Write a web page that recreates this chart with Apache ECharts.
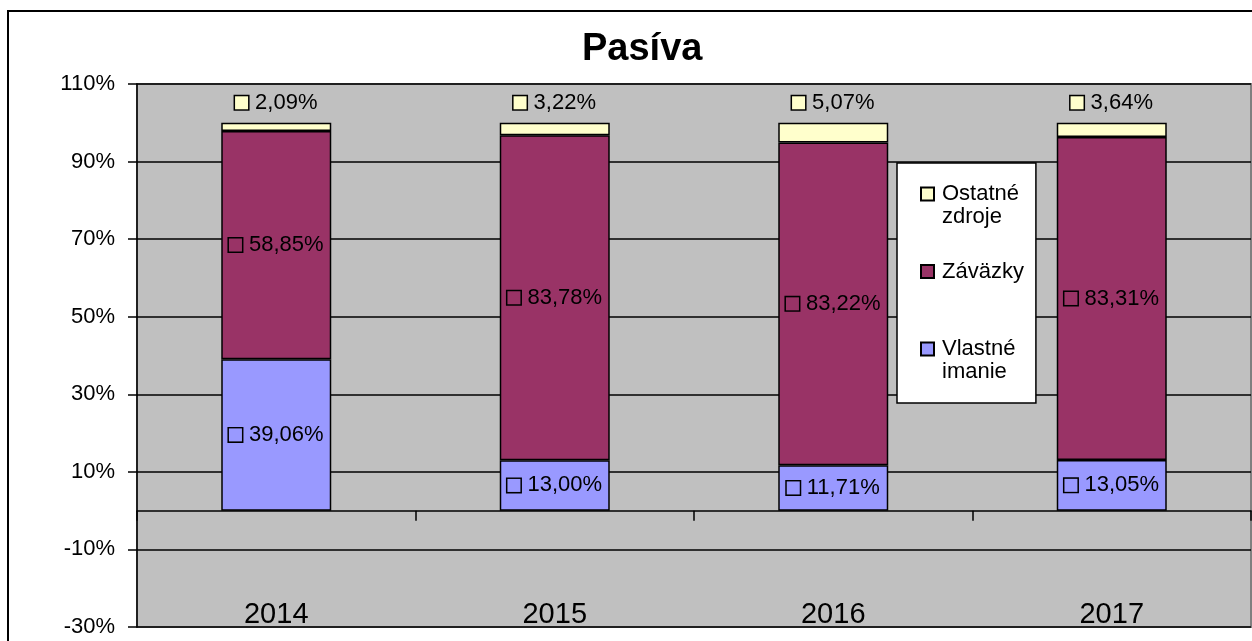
<!DOCTYPE html>
<html>
<head>
<meta charset="utf-8">
<title>Pasíva</title>
<script src="https://cdn.jsdelivr.net/npm/echarts@6/dist/echarts.min.js"></script>
<style>
  html, body { margin: 0; padding: 0; background: #fff; }
  #chart { width: 1252px; height: 641px; }
</style>
</head>
<body>
<div id="chart"></div>
<script>
// data (percent of total)
const years = ['2014', '2015', '2016', '2017']
const vlastneImanie = [39.06, 13.00, 11.71, 13.05]
const zavazky = [58.85, 83.78, 83.22, 83.31]
const ostatneZdroje = [2.09, 3.22, 5.07, 3.64]

const FONT = 'Liberation Sans, Arial, sans-serif'
const colors = {
  vlastne: '#9999FF',
  zavazky: '#993366',
  ostatne: '#FFFFCC'
}

// 1,23% style number
const fmt = v => v.toFixed(2).replace('.', ',') + '%'

// label with the small legend key in front of the value
function keyLabel(color, position, distance) {
  return {
    show: true,
    position: position,
    distance: distance,
    color: '#000',
    fontFamily: FONT,
    fontSize: 22,
    textBorderWidth: 0,
    formatter: p => '{box|}{sp|}' + fmt(p.value),
    rich: {
      box: {
        width: 13,
        height: 13,
        backgroundColor: color,
        borderColor: '#000',
        borderWidth: 1.5
      },
      sp: { width: 7 }
    }
  }
}

function barSeries(name, data, color, label) {
  return {
    name: name,
    type: 'bar',
    stack: 'total',
    barWidth: 110,
    data: data,
    itemStyle: {
      color: color,
      borderColor: '#000',
      borderWidth: 1.5
    },
    label: label,
    emphasis: { disabled: true }
  }
}

const chart = echarts.init(document.getElementById('chart'))

chart.setOption({
  animation: false,
  backgroundColor: '#fff',
  title: {
    text: 'Pasíva',
    left: 577,
    top: 26,
    textStyle: {
      fontFamily: FONT,
      fontSize: 38,
      fontWeight: 'bold',
      color: '#000'
    }
  },
  // outer frame of the chart area
  graphic: [{
    type: 'rect',
    silent: true,
    shape: { x: 8, y: 11, width: 1400, height: 900 },
    style: { fill: 'none', stroke: '#000', lineWidth: 2 }
  }],
  legend: {
    orient: 'vertical',
    left: 897,
    top: 163,
    padding: [18.5, 12, 18.5, 23],
    itemGap: 29.5,
    itemWidth: 13,
    itemHeight: 46,
    // key square sits at the first text line (top aligned like Excel)
    icon: 'path://M0,5H13V18H0ZM0,0M0,46',
    backgroundColor: '#fff',
    borderColor: '#000',
    borderWidth: 1.5,
    borderRadius: 0,
    selectedMode: false,
    data: ['Ostatné zdroje', 'Záväzky', 'Vlastné imanie'],
    formatter: name => name === 'Záväzky' ? name + '\n\u00a0' : name.replace(' ', '\n'),
    textStyle: {
      fontFamily: FONT,
      fontSize: 22,
      lineHeight: 23,
      color: '#000',
      padding: [0, 0, 0, 3]
    }
  },
  grid: {
    left: 137,
    right: 1,
    top: 84,
    bottom: 14,
    containLabel: false,
    outerBoundsMode: 'none',
    show: true,
    backgroundColor: '#C0C0C0',
    borderColor: '#808080',
    borderWidth: 2
  },
  xAxis: {
    type: 'category',
    data: years,
    axisLine: {
      onZero: true,
      lineStyle: { color: '#000', width: 1.5 }
    },
    axisTick: {
      show: true,
      length: 10,
      lineStyle: { color: '#000', width: 1.5 }
    },
    axisLabel: {
      // labels sit at the bottom of the plot, inside it
      margin: -27,
      color: '#000',
      fontFamily: FONT,
      fontSize: 29
    }
  },
  yAxis: {
    type: 'value',
    min: -30,
    max: 110,
    interval: 20,
    axisLine: {
      show: true,
      lineStyle: { color: '#000', width: 1.5 }
    },
    axisTick: {
      show: true,
      length: 9,
      lineStyle: { color: '#000', width: 1.5 }
    },
    axisLabel: {
      margin: 22,
      color: '#000',
      fontFamily: FONT,
      fontSize: 22,
      formatter: '{value}%'
    },
    splitLine: {
      lineStyle: { color: '#000', width: 1.5 }
    }
  },
  series: [
    barSeries('Vlastné imanie', vlastneImanie, colors.vlastne, keyLabel(colors.vlastne, 'inside', 0)),
    barSeries('Záväzky', zavazky, colors.zavazky, keyLabel(colors.zavazky, 'inside', 0)),
    barSeries('Ostatné zdroje', ostatneZdroje, colors.ostatne, keyLabel(colors.ostatne, 'top', 9))
  ]
})
</script>
</body>
</html>
